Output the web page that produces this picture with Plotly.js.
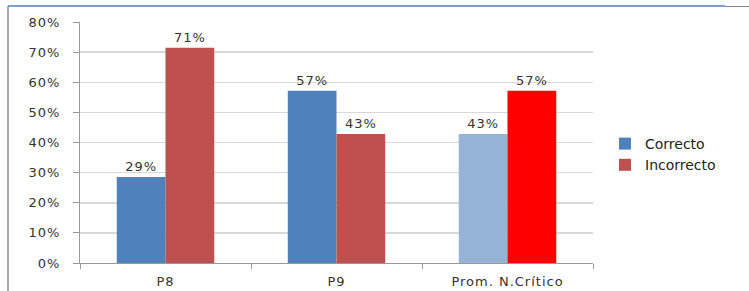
<!DOCTYPE html>
<html>
<head>
<meta charset="utf-8">
<script src="https://cdn.plot.ly/plotly-3.0.1.min.js"></script>
<style>
html,body{margin:0;padding:0;background:#fff;}
#chart{width:749px;height:291px;}
#chart svg text{letter-spacing:1px;}
#chart svg .legend text{letter-spacing:0;}
</style>
</head>
<body>
<div id="chart"></div>
<script>
var categories = ['P8', 'P9', 'Prom. N.Crítico'];
var correcto = [0.2857, 0.5714, 0.4286];
var incorrecto = [0.7143, 0.4286, 0.5714];
var correctoColors = ['#4F81BD', '#4F81BD', '#95B3D7'];
var incorrectoColors = ['#C0504D', '#C0504D', '#FF0000'];
var yTicks = [0, 0.1, 0.2, 0.3, 0.4, 0.5, 0.6, 0.7, 0.8];

var W = 749, H = 291, L = 80, R = 156, T = 22, B = 28;
var pw = W - L - R, ph = H - T - B;
function px(x) { return (x - L) / pw; }
function py(y) { return (H - B - y) / ph; }

var font = {family: 'DejaVu Sans, Verdana, sans-serif', size: 13, color: '#333'};

var traces = [
  {type: 'bar', name: 'Correcto', x: categories, y: correcto,
   marker: {color: correctoColors}, text: correcto, texttemplate: '%{y:.0%}',
   textposition: 'outside', cliponaxis: false, textfont: font},
  {type: 'bar', name: 'Incorrecto', x: categories, y: incorrecto,
   marker: {color: incorrectoColors}, text: incorrecto, texttemplate: '%{y:.0%}',
   textposition: 'outside', cliponaxis: false, textfont: font}
];

var layout = {
  width: W, height: H,
  margin: {l: L, r: R, t: T, b: B},
  paper_bgcolor: '#fff', plot_bgcolor: '#fff',
  font: font,
  barmode: 'group', bargap: 0.43, bargroupgap: 0,
  showlegend: true,
  legend: {x: px(605), y: py(128), xanchor: 'left', yanchor: 'top',
           font: {family: 'DejaVu Sans, Verdana, sans-serif', size: 14, color: '#222'},
           itemwidth: 30, tracegroupgap: 4},
  xaxis: {type: 'category', showline: true, linecolor: '#999', linewidth: 1,
          ticks: 'outside', tickson: 'boundaries', ticklen: 5, tickcolor: '#999',
          ticklabelstandoff: 6,
          showgrid: false, tickfont: font, fixedrange: true},
  yaxis: {range: [0, 0.8], tickvals: yTicks, tickformat: '.0%',
          showline: true, linecolor: '#999', linewidth: 1,
          ticks: 'outside', ticklen: 6, tickcolor: '#999',
          ticklabelstandoff: 10,
          showgrid: true, gridcolor: '#d9d9d9', gridwidth: 1.5, zeroline: false,
          tickfont: font, fixedrange: true},
  shapes: [
    {type: 'line', xref: 'paper', yref: 'paper', x0: px(8), x1: px(8), y0: py(6), y1: py(291),
     line: {color: '#888', width: 1.5}},
    {type: 'line', xref: 'paper', yref: 'paper', x0: px(8), x1: px(725), y0: py(6), y1: py(6),
     line: {color: '#4F81BD', width: 1.5}},
    {type: 'line', xref: 'paper', yref: 'paper', x0: px(725), x1: px(749), y0: py(6.5), y1: py(6.5),
     line: {color: '#888', width: 1}}
  ]
};

Plotly.newPlot('chart', traces, layout, {displayModeBar: false, staticPlot: true});
</script>
</body>
</html>
